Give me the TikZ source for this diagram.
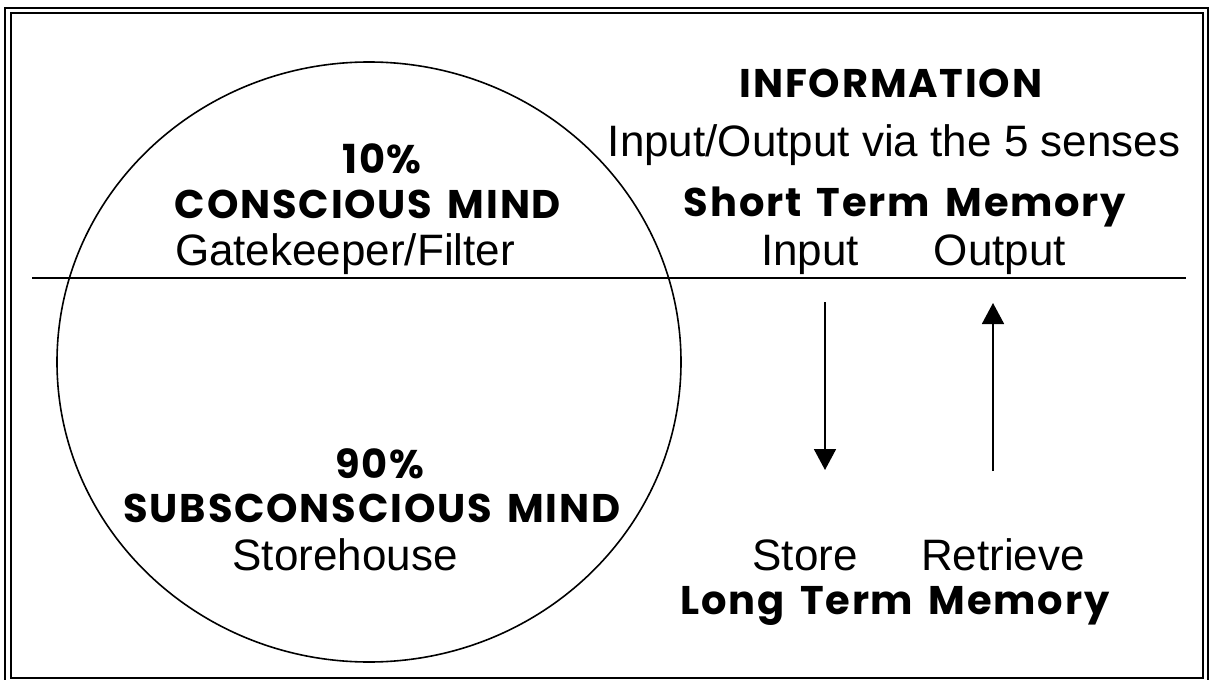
\documentclass[tikz,border=0pt]{standalone}
\usepackage{fontspec}
\setmainfont{Liberation Sans}
\newfontfamily\comic[LetterSpace=4.5,WordSpace=1.5]{Poppins}
\usetikzlibrary{arrows.meta}
\tikzset{
  plain/.style={anchor=base, inner sep=0pt, font=\fontsize{44bp}{50bp}\selectfont},
  heavy/.style={anchor=base, inner sep=0pt, font=\comic\bfseries\fontsize{40bp}{46bp}\selectfont},
  frameline/.style={line width=2bp},
  thinline/.style={line width=1.6bp},
  flow/.style={line width=1.8bp, -{Triangle[width=22bp,length=21bp]}},
}
\begin{document}
\begin{tikzpicture}[x=1bp,y=-1bp]
\useasboundingbox (0,0) rectangle (1211,680);
% frame
\draw[frameline] (5,8) rectangle (1208,686);
\draw[frameline] (11,13) rectangle (1203,678);
% divider and circle
\coordinate (divL) at (32,278);
\coordinate (divR) at (1186,278);
\draw[thinline] (divL) -- (divR);
\draw[thinline] (369,362) ellipse [x radius=312bp, y radius=300bp];
% left texts
\node[heavy] (ten) at (382,174) {10\%};
\node[heavy] (cons) at (368,219) {CONSCIOUS MIND};
\node[plain] (gate) at (345,265) {Gatekeeper/Filter};
\node[heavy] (ninety) at (380,478) {90\%};
\node[heavy] (subc) at (372,522) {SUBSCONSCIOUS MIND};
\node[plain] (store) at (345,570) {Storehouse};
% right texts
\node[heavy] (info) at (891,98) {INFORMATION};
\node[plain] (senses) at (894,157) {Input/Output via the 5 senses};
\node[heavy] (stm) at (905,217) {Short Term Memory};
\node[plain] (inp) at (810,265) {Input};
\node[plain] (outp) at (1000,265) {Output};
\node[plain] (st) at (805,570) {Store};
\node[plain] (ret) at (1003,570) {Retrieve};
\node[heavy] (ltm) at (895,614) {Long Term Memory};
% arrows
\coordinate (dTop) at (825,302);
\coordinate (dBot) at (825,470);
\coordinate (uBot) at (993,471);
\coordinate (uTop) at (993,303);
\draw[flow] (dTop) -- (dBot);
\draw[flow] (uBot) -- (uTop);
\end{tikzpicture}
\end{document}
